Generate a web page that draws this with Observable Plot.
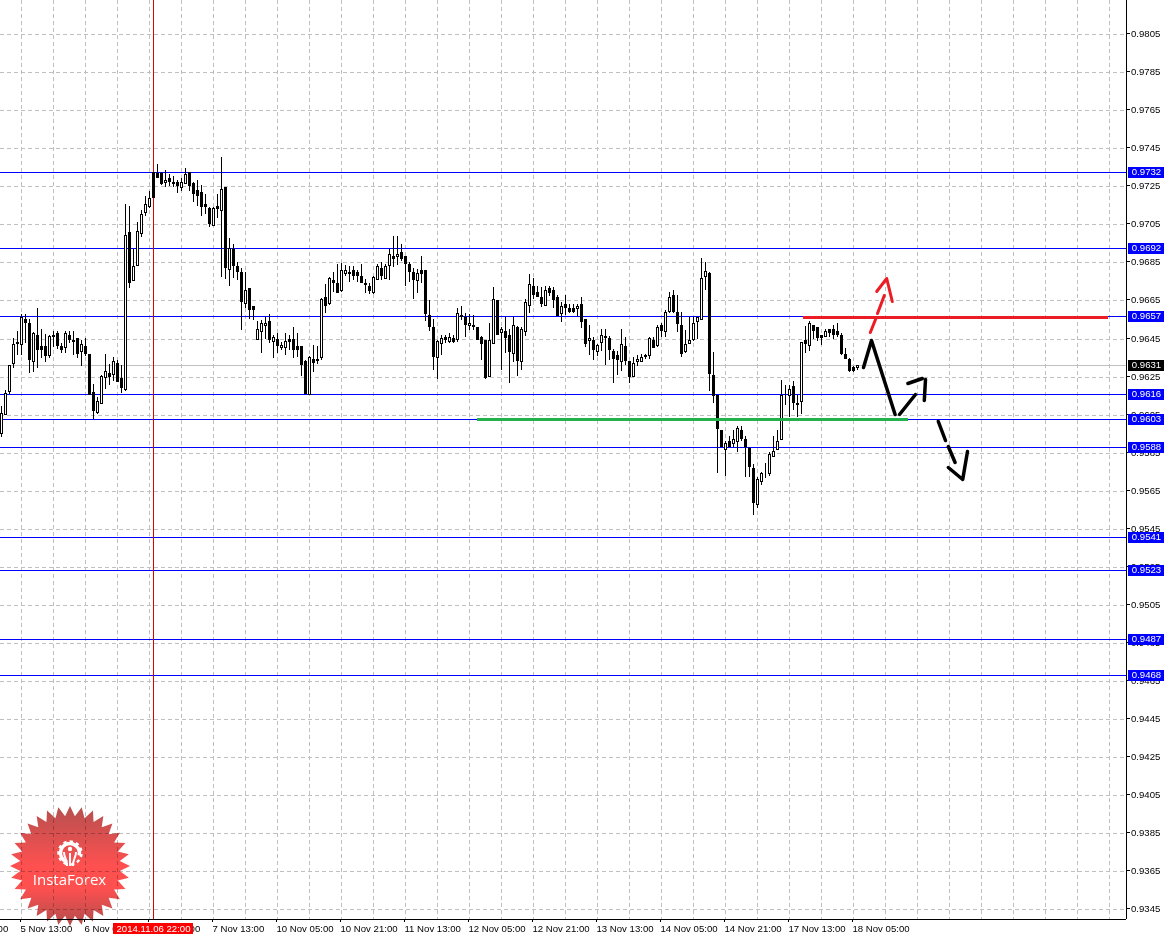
<!DOCTYPE html>
<html><head><meta charset="utf-8">
<script src="https://cdn.jsdelivr.net/npm/d3@7"></script>
<script src="https://cdn.jsdelivr.net/npm/@observablehq/plot@0.6"></script>
<style>
html,body{margin:0;padding:0;background:#fff;overflow:hidden}
#wrap{position:relative;width:1168px;height:937px}
#logo{position:absolute;left:0;top:0;mix-blend-mode:multiply;pointer-events:none}
</style></head><body><div id="wrap"></div>
<script>
const opens=[.95953,.96055,.96176,.96320,.96432,.96421,.96551,.96530,.96330,.96467,.96411,.96411,.96362,.96467,.96477,
.96411,.96407,.96467,.96442,.96453,.96386,.96411,.96369,.96169,.96065,.96110,.96249,.96267,.96264,.96320,
.96243,.96187,.97008,.96760,.96837,.97005,.97117,.97144,.97326,.97319,.97319,.97273,.97294,.97273,.97273,
.97245,.97266,.97326,.97266,.97228,.97218,.97158,.97138,.97047,.97148,.97127,.97249,.96816,.96921,.96830,
.96799,.96638,.96718,.96620,.96449,.96488,.96520,.96540,.96439,.96449,.96407,.96407,.96449,.96449,.96411,
.96411,.96330,.96159,.96341,.96341,.96351,.96666,.96638,.96760,.96742,.96707,.96795,.96799,.96809,.96799,
.96777,.96741,.96728,.96693,.96763,.96819,.96770,.96837,.96886,.96886,.96907,.96886,.96840,.96799,.96760,
.96809,.96809,.96575,.96509,.96351,.96428,.96460,.96439,.96453,.96449,.96575,.96561,.96520,.96520,.96509,
.96460,.96442,.96253,.96428,.96651,.96484,.96488,.96467,.96376,.96509,.96330,.96488,.96628,.96728,.96697,
.96670,.96628,.96718,.96707,.96666,.96586,.96631,.96610,.96610,.96610,.96631,.96551,.96442,.96442,.96386,
.96432,.96463,.96453,.96386,.96362,.96330,.96411,.96330,.96253,.96330,.96330,.96365,.96362,.96442,.96417,
.96520,.96488,.96596,.96677,.96589,.96520,.96386,.96428,.96446,.96540,.96551,.96777,.96795,.96257,.96155,
.95971,.95869,.95911,.95901,.95911,.95971,.95922,.95876,.95771,.95580,.95702,.95751,.95744,.95831,.95869,
.95922,.96145,.96152,.96201,.96112,.96120,.96442,.96417,.96520,.96509,.96467,.96463,.96498,.96498,.96491,.96467,.96369,.96341,.96302,.96299];
const highs=[.96093,.96180,.96311,.96451,.96488,.96579,.96579,.96551,.96486,.96610,.96498,.96474,.96467,.96488,.96488,
.96425,.96488,.96488,.96488,.96453,.96442,.96453,.96369,.96211,.96141,.96257,.96369,.96316,.96351,.96337,
.96309,.97158,.97148,.96921,.97061,.97127,.97200,.97224,.97326,.97368,.97326,.97336,.97315,.97305,.97284,
.97294,.97347,.97326,.97273,.97284,.97256,.97211,.97141,.97141,.97211,.97406,.97249,.96977,.96949,.96851,
.96823,.96799,.96718,.96620,.96540,.96547,.96565,.96579,.96467,.96477,.96432,.96481,.96467,.96509,.96481,
.96411,.96337,.96358,.96414,.96411,.96662,.96739,.96774,.96802,.96844,.96847,.96837,.96833,.96833,.96812,
.96840,.96763,.96742,.96777,.96840,.96851,.96844,.96921,.96987,.96987,.96949,.96886,.96851,.96819,.96816,
.96886,.96809,.96651,.96551,.96442,.96467,.96470,.96477,.96470,.96610,.96620,.96586,.96579,.96575,.96509,
.96463,.96442,.96533,.96721,.96651,.96512,.96565,.96498,.96561,.96516,.96509,.96659,.96788,.96770,.96725,
.96721,.96728,.96728,.96721,.96677,.96642,.96680,.96634,.96631,.96634,.96666,.96551,.96520,.96460,.96421,
.96498,.96498,.96463,.96397,.96383,.96498,.96460,.96330,.96351,.96365,.96369,.96369,.96460,.96460,.96523,
.96530,.96599,.96697,.96707,.96677,.96589,.96495,.96565,.96561,.96561,.96875,.96851,.96802,.96379,.96155,
.95971,.95911,.95936,.95971,.95992,.95988,.95936,.95880,.95792,.95723,.95751,.95796,.95855,.95936,.95971,
.96232,.96208,.96204,.96225,.96155,.96432,.96516,.96540,.96523,.96512,.96470,.96502,.96502,.96523,.96530,.96477,.96401,.96348,.96306,.96309];
const lows=[.95932,.96048,.96159,.96295,.96365,.96365,.96425,.96267,.96276,.96297,.96348,.96327,.96348,.96407,.96397,
.96376,.96376,.96425,.96365,.96348,.96306,.96358,.96153,.96027,.96055,.96106,.96187,.96204,.96225,.96225,
.96166,.96176,.96718,.96760,.96830,.96984,.97092,.97134,.97193,.97294,.97256,.97245,.97252,.97245,.97214,
.97224,.97263,.97224,.97169,.97148,.97095,.97102,.97036,.97043,.97085,.96774,.96763,.96728,.96770,.96756,
.96495,.96613,.96551,.96547,.96449,.96376,.96449,.96428,.96348,.96372,.96390,.96365,.96390,.96348,.96355,
.96253,.96159,.96159,.96274,.96316,.96337,.96582,.96628,.96697,.96693,.96697,.96781,.96746,.96760,.96746,
.96746,.96687,.96683,.96683,.96760,.96756,.96763,.96760,.96827,.96837,.96858,.96725,.96746,.96660,.96687,
.96742,.96540,.96488,.96285,.96239,.96365,.96428,.96428,.96425,.96432,.96547,.96460,.96495,.96495,.96446,
.96337,.96239,.96249,.96421,.96474,.96285,.96376,.96219,.96327,.96253,.96285,.96463,.96582,.96659,.96666,
.96617,.96628,.96673,.96613,.96572,.96537,.96572,.96582,.96582,.96568,.96505,.96407,.96365,.96337,.96358,
.96383,.96309,.96337,.96219,.96257,.96278,.96309,.96219,.96249,.96306,.96327,.96341,.96341,.96404,.96407,
.96460,.96460,.96586,.96586,.96484,.96351,.96376,.96428,.96439,.96449,.96547,.96704,.96176,.96110,.95744,
.95880,.95730,.95887,.95880,.95852,.95911,.95723,.95723,.95521,.95559,.95678,.95719,.95730,.95827,.95866,
.95922,.96103,.96040,.96072,.96040,.96051,.96376,.96386,.96449,.96439,.96417,.96456,.96460,.96449,.96456,.96365,.96345,.96274,.96274,.96285];
const closes=[.96058,.96166,.96309,.96421,.96428,.96561,.96538,.96341,.96477,.96397,.96397,.96365,.96463,.96463,.96417,
.96397,.96477,.96449,.96439,.96376,.96421,.96376,.96159,.96075,.96120,.96253,.96278,.96253,.96330,.96229,
.96197,.96994,.96749,.96830,.97015,.97106,.97158,.97186,.97193,.97301,.97266,.97284,.97280,.97266,.97256,
.97273,.97315,.97256,.97214,.97204,.97148,.97144,.97057,.97138,.97134,.97235,.96827,.96928,.96837,.96806,
.96648,.96707,.96606,.96606,.96498,.96530,.96530,.96449,.96460,.96417,.96417,.96439,.96439,.96397,.96397,
.96316,.96163,.96351,.96327,.96337,.96659,.96628,.96767,.96746,.96697,.96809,.96809,.96795,.96784,.96784,
.96746,.96737,.96704,.96774,.96830,.96784,.96830,.96896,.96872,.96896,.96872,.96847,.96806,.96763,.96795,
.96795,.96586,.96516,.96358,.96439,.96453,.96449,.96456,.96439,.96586,.96568,.96526,.96530,.96518,.96449,
.96428,.96249,.96442,.96659,.96474,.96498,.96456,.96386,.96520,.96337,.96498,.96642,.96739,.96683,.96673,
.96638,.96707,.96693,.96659,.96575,.96620,.96617,.96596,.96596,.96620,.96540,.96428,.96453,.96397,.96417,
.96467,.96460,.96397,.96348,.96341,.96421,.96337,.96253,.96320,.96341,.96351,.96358,.96453,.96407,.96509,
.96495,.96589,.96666,.96596,.96530,.96376,.96421,.96442,.96530,.96561,.96767,.96806,.96267,.96152,.95978,
.95883,.95901,.95883,.95922,.95981,.95929,.95887,.95778,.95590,.95713,.95744,.95747,.95845,.95859,.95911,
.96152,.96141,.96187,.96117,.96108,.96432,.96428,.96530,.96495,.96460,.96460,.96488,.96484,.96474,.96474,.96372,.96348,.96285,.96285,.96309];

const levelValues=[.97326,.96928,.9657,.9616,.96028,.9588,.95406,.95234,.9487,.9468];
const levelLabels=["0.9732","0.9692","0.9657","0.9616","0.9603","0.9588","0.9541","0.9523","0.9487","0.9468"];
const lastPrice=.9631, lastLabel="0.9631";
const yTickValues=[.9805,.9785,.9765,.9745,.9725,.9705,.9685,.9665,.9645,.9625,.9605,.9585,.9565,.9545,.9525,.9505,.9485,.9465,.9445,.9425,.9405,.9385,.9365,.9345];
const xTickBars=[-11,5,21,37,53,69,85,101,117,133,149,165,181,197,213];
const xTickLabels=["4 Nov 21:00","5 Nov 13:00","6 Nov 05:00","6 Nov 21:00","7 Nov 13:00","10 Nov 05:00","10 Nov 21:00","11 Nov 13:00","12 Nov 05:00","12 Nov 21:00","13 Nov 13:00","14 Nov 05:00","14 Nov 21:00","17 Nov 13:00","18 Nov 05:00"];
const crossBar=38, crossLabel="2014.11.06 22:00";
const redLevel=.96562, redFrom=200.5, redTo=276.75;
const greenLevel=.96026, greenFrom=119, greenTo=226.75;
const blackStrokeIds=[1,1,1,2,2,3,3,4,4,5,5,6,6,7,7,7];
const blackStrokeBars=[215.5,217.5,223.4,224.5,228.5,226.6,230.2,231,230.7,234.2,236,236.7,238.4,236.7,240.3,241.5];
const blackStrokePrices=[.96299,.96443,.96054,.96054,.96159,.96218,.96243,.96239,.96127,.96019,.95917,.95886,.95802,.95774,.95711,.95861];
const redStrokeIds=[1,1,2,2,3,3,3];
const redStrokeBars=[217.2,218.7,219,220.7,218.8,221.3,222.7];
const redStrokePrices=[.96485,.96562,.96583,.96681,.96702,.96768,.96649];

const FONT='"Liberation Sans",sans-serif', FS=9.6;
const GRID="#c0c0c0", BLUE="#0000ff", DASH="4,3";
const candles=opens.map((o,i)=>({i,o,h:highs[i],l:lows[i],c:closes[i]}));
const levels=levelValues.map((v,k)=>({v,label:levelLabels[k]}));
const xMin=-0.25,xMax=281.25;
const tag=(rows,fill)=>[
  Plot.ruleY(rows,{y:"v",x1:xMax+0.5,x2:xMax+9.5,stroke:fill,strokeWidth:11}),
  Plot.text(rows,{y:"v",x:xMax+5,text:"label",fill:"#fff",textAnchor:"middle",fontSize:FS,dy:-1})
];
const zip=(ids,xs,ys)=>ids.map((id,k)=>({id,x:xs[k],y:ys[k]}));

const chart=Plot.plot({
  width:1168,height:937,marginLeft:0,marginRight:42,marginTop:0,marginBottom:18,
  style:{fontFamily:FONT,fontSize:FS+"px",background:"transparent",color:"#000"},
  x:{type:"linear",domain:[xMin,xMax],range:[0,1126]},
  y:{type:"linear",domain:[.93400,.98229],range:[919,0],round:true},
  marks:[
    Plot.gridX(d3.range(5,281,8),{stroke:GRID,strokeOpacity:1,strokeDasharray:DASH}),
    Plot.gridY(yTickValues,{stroke:GRID,strokeOpacity:1,strokeDasharray:DASH}),
    Plot.ruleY([lastPrice],{stroke:GRID}),
    Plot.ruleY(levelValues,{stroke:BLUE}),
    Plot.ruleX([crossBar],{stroke:"#e00000"}),
    Plot.ruleX(candles,{x:"i",y1:"l",y2:"h",stroke:"#000"}),
    Plot.rect(candles,{x1:d=>d.i-.25,x2:d=>d.i+.25,y1:d=>Math.min(d.o,d.c),y2:d=>Math.max(d.o,d.c),
      fill:d=>d.c>=d.o?"#fff":"#000",stroke:"#000",dx:.5,dy:.5}),
    Plot.ruleY([redLevel],{x1:redFrom,x2:redTo,stroke:"#ed1c24",strokeWidth:3}),
    Plot.ruleY([greenLevel],{x1:greenFrom,x2:greenTo,stroke:"#22b14c",strokeWidth:3}),
    Plot.line(zip(blackStrokeIds,blackStrokeBars,blackStrokePrices),{x:"x",y:"y",z:"id",stroke:"#000",strokeWidth:3.5,curve:"linear"}),
    Plot.line(zip(redStrokeIds,redStrokeBars,redStrokePrices),{x:"x",y:"y",z:"id",stroke:"#ed1c24",strokeWidth:3,curve:"linear"}),
    Plot.ruleX([xMax],{stroke:"#000"}),
    Plot.ruleY([.93400],{stroke:"#000"}),
    Plot.axisY(yTickValues,{anchor:"right",tickSize:3,tickPadding:1.5,tickFormat:d=>d.toFixed(4),label:null,fontSize:FS,dy:-1}),
    Plot.axisX(xTickBars,{anchor:"bottom",tickSize:3,tickPadding:3,textAnchor:"start",tickFormat:d=>xTickLabels[xTickBars.indexOf(d)],label:null,fontSize:FS,dx:-1}),
    ...tag(levels,BLUE),
    ...tag([{v:lastPrice,label:lastLabel}],"#000"),
    Plot.ruleY([.93400],{x1:crossBar-10,x2:crossBar+10,stroke:"#ff0000",strokeWidth:11,dy:9}),
    Plot.text([crossLabel],{x:crossBar,y:()=>.93400,dy:9,fill:"#fff",fontSize:FS})
  ]
});
document.getElementById("wrap").appendChild(chart);

/* InstaForex badge */
const logo=d3.select("#wrap").append("svg").attr("id","logo").attr("width",1168).attr("height",937);
const grad=logo.append("defs").append("linearGradient").attr("id","lg").attr("x1",0).attr("y1",0).attr("x2",0).attr("y2",1);
[[0,"#b5504f"],[.5,"#ff5050"],[.68,"#ff5050"],[1,"#b24c4c"]].forEach(([o,c])=>grad.append("stop").attr("offset",o).attr("stop-color",c));
const cx=70,cy=866,spikes=32;
const pts=d3.range(spikes*2).map(k=>{const r=k%2?50:60,a=k*Math.PI/spikes-Math.PI/2;return [cx+r*Math.cos(a),cy+r*Math.sin(a)].join(",")}).join(" ");
logo.append("polygon").attr("points",pts).attr("fill","url(#lg)");
const g=logo.append("g").attr("stroke","#fff").attr("fill","none");
g.append("circle").attr("cx",70).attr("cy",853).attr("r",9.5).attr("stroke-width",3.5).attr("stroke-dasharray","44 16").attr("transform","rotate(108 70 853)");
g.append("circle").attr("cx",70).attr("cy",853).attr("r",11.5).attr("stroke-width",2.5).attr("stroke-dasharray","3.2 3.2").attr("transform","rotate(108 70 853)");
g.append("circle").attr("cx",70).attr("cy",849).attr("r",2.2).attr("fill","#fff").attr("stroke","none");
g.append("path").attr("d","M70 853V866M64 852C64 858 67 858 67 866M76 852C76 858 73 858 73 866").attr("stroke-width",2);
logo.append("text").attr("x",69.5).attr("y",885).attr("text-anchor","middle").attr("fill","#fff")
  .attr("font-family",'"Open Sans",sans-serif').attr("font-size",15).text("InstaForex");
</script></body></html>
